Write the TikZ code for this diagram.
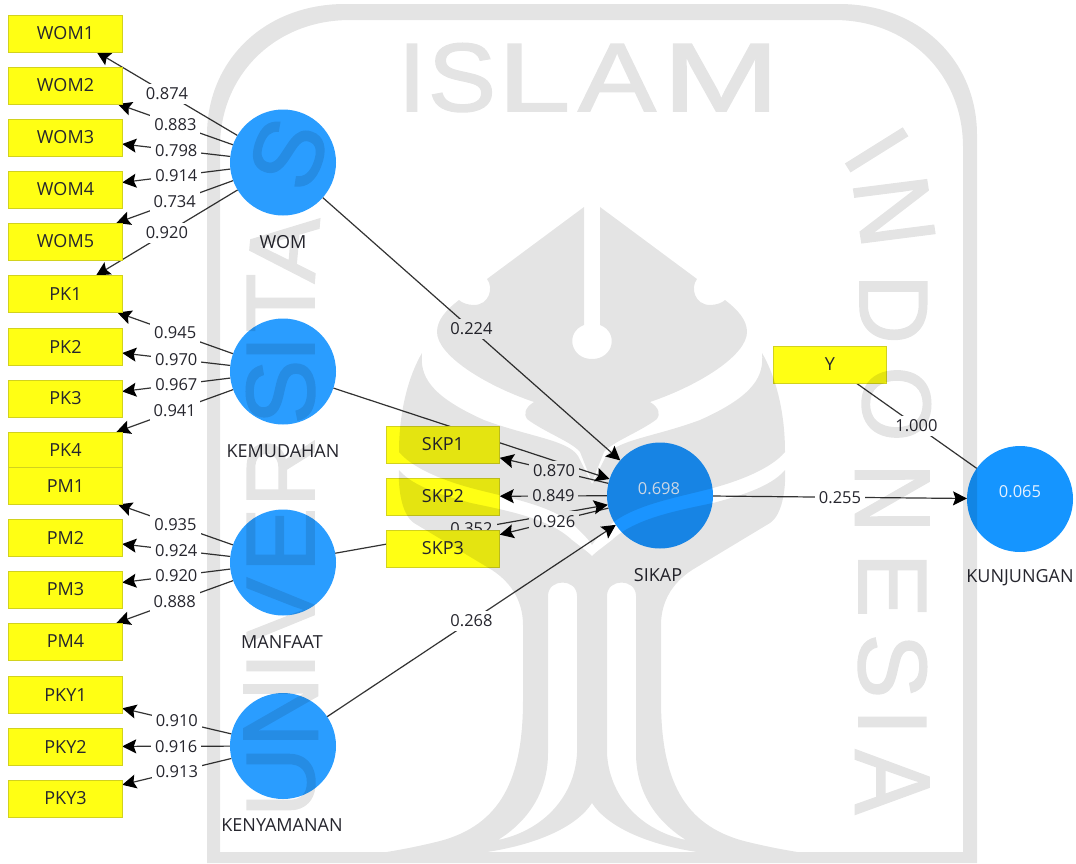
\documentclass[tikz,border=0pt]{standalone}
\usepackage{fontspec}
\setmainfont{Open Sans}
\newfontfamily\wmf[FakeBold=1.6]{Liberation Sans}
\usetikzlibrary{arrows.meta}
\pgfdeclarelayer{edges}
\pgfdeclarelayer{labels}
\pgfdeclarelayer{wm}
\pgfsetlayers{edges,labels,main,wm}
\definecolor{indfill}{HTML}{FFFF14}
\definecolor{indline}{HTML}{D2D21E}
\definecolor{lvfill}{HTML}{2A9DFF}
\definecolor{sikfill}{HTML}{1A94FF}
\definecolor{kunfill}{HTML}{1595FF}
\definecolor{lnk}{HTML}{333333}
\definecolor{txt}{HTML}{26262E}
\definecolor{inval}{HTML}{E4F1FF}
\tikzset{
  every node/.style={font=\fontsize{18}{20}\selectfont,text=txt,inner sep=0pt,outer sep=0pt},
  ind/.style={rectangle,draw=indline,line width=1pt,fill=indfill,minimum width=113.5pt,minimum height=37pt},
  lv/.style={circle,fill=lvfill,minimum size=106pt},
  lvname/.style={},
  valtext/.style={font=\fontsize{16.5}{18}\selectfont},
  lnkarr/.style={draw=lnk,line width=1.2pt,-{Stealth[length=14pt,width=14pt,inset=2.5pt,black]}},
  lnkplain/.style={draw=lnk,line width=1.2pt},
  lbl/.style={valtext,fill=white,inner xsep=4pt,inner ysep=4pt},
  wmletter/.style={font=\wmf\fontsize{97}{97}\selectfont,text=black,text height=70pt,text depth=0pt},
}
\begin{document}
\begin{tikzpicture}[x=1pt,y=-1pt]
\useasboundingbox (0,0) rectangle (1076,863);
% indicators
\foreach \n/\x/\y/\t in {
  womA/65.5/33.5/WOM1, womB/65.5/85.5/WOM2, womC/65.5/137.5/WOM3, womD/65.5/189.5/WOM4, womE/65.5/241.5/WOM5,
  pkA/65.5/294/PK1, pkB/65.5/346.5/PK2, pkC/65.5/398.5/PK3, pkD/65.5/450.5/PK4,
  pmA/65.5/486/PM1, pmB/65.5/537.5/PM2, pmC/65.5/589.5/PM3, pmD/65.5/641.5/PM4,
  pkyA/65.5/695/PKY1, pkyB/65.5/746.5/PKY2, pkyC/65.5/798.5/PKY3,
  skpA/443/444.5/SKP1, skpB/443/496.5/SKP2, skpC/443/548.5/SKP3,
  yy/830/364.5/Y}
  \node[ind] (\n) at (\x,\y) {\t};
% latent variables
\node[lv] (wom) at (283,162.5) {};
\node[lv] (kem) at (283,371.5) {};
\node[lv] (man) at (283,562.5) {};
\node[lv] (ken) at (283,746) {};
\node[lv,fill=sikfill] (sik) at (660,495.5) {};
\node[lv,fill=kunfill] (kun) at (1020,499) {};
\node[valtext,text=inval] (sikv) at (659,489) {0.698};
\node[valtext,text=inval] (kunv) at (1020,492) {0.065};
\node[lvname] (womn) at (283,242) {WOM};
\node[lvname] (kemn) at (283,451) {KEMUDAHAN};
\node[lvname] (mann) at (282,642) {MANFAAT};
\node[lvname] (kenn) at (282,825) {KENYAMANAN};
\node[lvname] (sikn) at (658,575) {SIKAP};
\node[lvname] (kunn) at (1020,578) {KUNJUNGAN};
% connectors
\begin{pgfonlayer}{edges}
\fill[white] (0,0) rectangle (1076,863);
\foreach \a/\b in {wom/womA,wom/womB,wom/womC,wom/womD,wom/womE,wom/pkA,
  kem/pkA,kem/pkB,kem/pkC,kem/pkD,
  man/pmA,man/pmB,man/pmC,man/pmD,
  ken/pkyA,ken/pkyB,ken/pkyC,
  sik/skpA,sik/skpB,sik/skpC,
  wom/sik,kem/sik,man/sik,ken/sik,sik/kun}
  \draw[lnkarr] (\a) -- (\b);
\draw[lnkplain] (yy) -- (kun);
\end{pgfonlayer}
\begin{pgfonlayer}{labels}
\foreach \a/\b/\t in {wom/womA/0.874,wom/womB/0.883,wom/womC/0.798,wom/womD/0.914,wom/womE/0.734,wom/pkA/0.920,
  kem/pkA/0.945,kem/pkB/0.970,kem/pkC/0.967,kem/pkD/0.941,
  man/pmA/0.935,man/pmB/0.924,man/pmC/0.920,man/pmD/0.888,
  ken/pkyA/0.910,ken/pkyB/0.916,ken/pkyC/0.913,
  sik/skpA/0.870,sik/skpB/0.849,sik/skpC/0.926,
  wom/sik/0.224,man/sik/0.352,ken/sik/0.268,sik/kun/0.255,yy/kun/1.000}
  \path (\a) -- node[lbl] {\t} (\b);
\end{pgfonlayer}
% watermark
\begin{pgfonlayer}{wm}
\begin{scope}[transparency group,opacity=0.105]
% frame
\fill[even odd rule,black]
  (207,863) -- (207,135) .. controls (207,60) and (265,4) .. (345,4) -- (839,4)
  .. controls (919,4) and (977,60) .. (977,135) -- (977,863) -- cycle
  (220,852) -- (220,147) .. controls (220,75) and (275,20) .. (350,20) -- (834,20)
  .. controls (909,20) and (963,75) .. (963,147) -- (963,852) -- cycle;
% top of the emblem
\fill[black]
  (584,207) -- (584,325) .. controls (565,332) and (570,359) .. (592,359)
  .. controls (614,359) and (619,332) .. (600,325) -- (600,207) -- (697,279)
  .. controls (690,288) and (695,305) .. (710,305) .. controls (716,305) and (722,303) .. (725,300)
  .. controls (738,310) and (747,320) .. (747,332) .. controls (747,355) and (700,385) .. (650,402)
  .. controls (660,408) and (660,415) .. (657,419) .. controls (640,432) and (612,442) .. (604,452) -- (592,482)
  -- (580,452) .. controls (572,442) and (544,432) .. (527,419)
  .. controls (524,415) and (524,408) .. (534,402) .. controls (484,385) and (437,355) .. (437,332)
  .. controls (437,320) and (446,310) .. (459,300) .. controls (462,303) and (468,305) .. (474,305)
  .. controls (489,305) and (494,288) .. (487,279) -- cycle;
% middle lobes
\fill[black]
  (762,353) .. controls (775,375) and (785,410) .. (785,452)
  .. controls (770,470) and (735,482) .. (713,488) .. controls (680,497) and (630,505) .. (608,527)
  .. controls (600,535) and (595,540) .. (592,545)
  .. controls (589,540) and (584,535) .. (576,527) .. controls (554,505) and (504,497) .. (471,488)
  .. controls (449,482) and (414,470) .. (399,452) .. controls (399,410) and (409,375) .. (422,353)
  .. controls (420,375) and (428,395) .. (484,420) .. controls (530,437) and (568,440) .. (578,456) -- (592,484)
  -- (606,456) .. controls (616,440) and (654,437) .. (700,420) .. controls (756,395) and (764,375) .. (762,353) -- cycle;
% lower part with the stems
\fill[even odd rule,black]
  (785,470) .. controls (770,488) and (735,497) .. (713,503) .. controls (680,510) and (635,518) .. (612,540)
  .. controls (603,547) and (596,552) .. (592,556) .. controls (588,552) and (581,547) .. (572,540)
  .. controls (549,518) and (504,510) .. (471,503) .. controls (449,497) and (414,488) .. (399,470)
  .. controls (398,490) and (402,515) .. (414,523) -- (487,567) .. controls (510,580) and (523,600) .. (523,625)
  -- (523,700) .. controls (523,780) and (500,825) .. (440,841) .. controls (420,846) and (400,850) .. (380,853)
  -- (480,853) .. controls (540,845) and (578,825) .. (592,803)
  .. controls (606,825) and (644,845) .. (704,853) -- (804,853)
  .. controls (784,850) and (764,846) .. (744,841) .. controls (684,825) and (661,780) .. (661,700)
  -- (661,625) .. controls (661,600) and (674,580) .. (697,567) -- (770,523) .. controls (782,515) and (786,490) .. (785,470) -- cycle
  (548,596) .. controls (548,578) and (577,578) .. (577,596) -- (577,753) .. controls (575,795) and (545,830) .. (498,840)
  .. controls (530,820) and (548,790) .. (548,753) -- cycle
  (607,596) .. controls (607,578) and (636,578) .. (636,596) -- (636,753) .. controls (636,790) and (654,820) .. (686,840)
  .. controls (639,830) and (609,795) .. (607,753) -- cycle;
% lettering
\foreach \i/\l/\x/\y/\r/\s in {
  A/I/412/76/0/1, B/S/462/76/0/1.05, C/L/534/76/0/1.35, D/A/617/76/0/1.2, E/M/721/76/0/1.45,
  e/I/878/149/-58/1, f/N/896/211/-82/1.1, g/D/895/309/-90/1, h/O/898/404/-90/1, i/N/894/498/-90/1.1,
  j/E/894/585/-90/1, k/S/894/666/-90/1, l/I/894/722/-90/1, m/A/894/782/-90/1.1,
  n/U/279/782/90/1, o/N/279/712/90/1.1, p/I/279/666/90/1, q/V/279/610/90/1, r/E/279/540/90/1,
  s/R/279/472/90/1, t/S/279/392/90/1, u/I/279/349/90/1, v/T/279/303/90/1, w/A/282/248/85/1, x/S/287/153/70/1}
  \node[wmletter,xscale=\s,rotate=\r] (wm\i) at (\x,\y) {\l};
\end{scope}
\end{pgfonlayer}
\end{tikzpicture}
\end{document}
